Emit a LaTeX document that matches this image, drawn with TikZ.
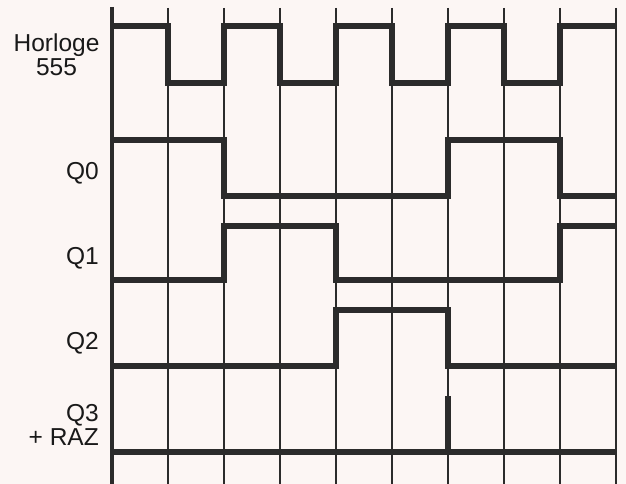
\documentclass[tikz,border=0pt]{standalone}
\usepackage{fontspec}
\setmainfont{Liberation Sans}
\definecolor{bg}{HTML}{FCF6F4}
\definecolor{ink}{HTML}{2B2B2B}
\begin{document}
\begin{tikzpicture}[x=1pt,y=-1pt,
  signal/.style={line width=6.5pt, draw=ink, line join=miter},
  gridline/.style={line width=1.1pt, draw=ink},
  axisline/.style={line width=3.8pt, draw=ink},
  lab/.style={font=\fontsize{24.5}{26}\selectfont, text=black!90, inner sep=0pt}]
\fill[bg] (0,0) rectangle (626,484);
\useasboundingbox (0,0) rectangle (626,484);
% grid
\foreach \x in {168,224,...,616} \draw[gridline] (\x,8) -- (\x,484);
\draw[axisline] (112,7) -- (112,484);
% clock
\draw[signal] (112,26) -- (168,26) -- (168,83) -- (224,83) -- (224,26) -- (280,26) -- (280,83)
  -- (336,83) -- (336,26) -- (392,26) -- (392,83) -- (448,83) -- (448,26) -- (504,26)
  -- (504,83) -- (560,83) -- (560,26) -- (616,26);
% Q0
\draw[signal] (112,140) -- (224,140) -- (224,196) -- (448,196) -- (448,140) -- (560,140)
  -- (560,196) -- (616,196);
% Q1
\draw[signal] (112,280) -- (224,280) -- (224,226) -- (336,226) -- (336,280) -- (560,280)
  -- (560,226) -- (616,226);
% Q2
\draw[signal] (112,366) -- (336,366) -- (336,310) -- (448,310) -- (448,366) -- (616,366);
% Q3 + RAZ
\draw[signal] (112,452) -- (616,452);
\draw[signal] (448,452) -- (448,396);
% labels
\node[lab, anchor=base] (horloge) at (56.5,52) {Horloge};
\node[lab, anchor=base] (n555) at (56.5,76) {555};
\node[lab, anchor=base east] (q0) at (99,179) {Q0};
\node[lab, anchor=base east] (q1) at (99,264) {Q1};
\node[lab, anchor=base east] (q2) at (99,349) {Q2};
\node[lab, anchor=base east] (q3) at (99,421) {Q3};
\node[lab, anchor=base east] (raz) at (99,445) {+ RAZ};
\end{tikzpicture}
\end{document}
